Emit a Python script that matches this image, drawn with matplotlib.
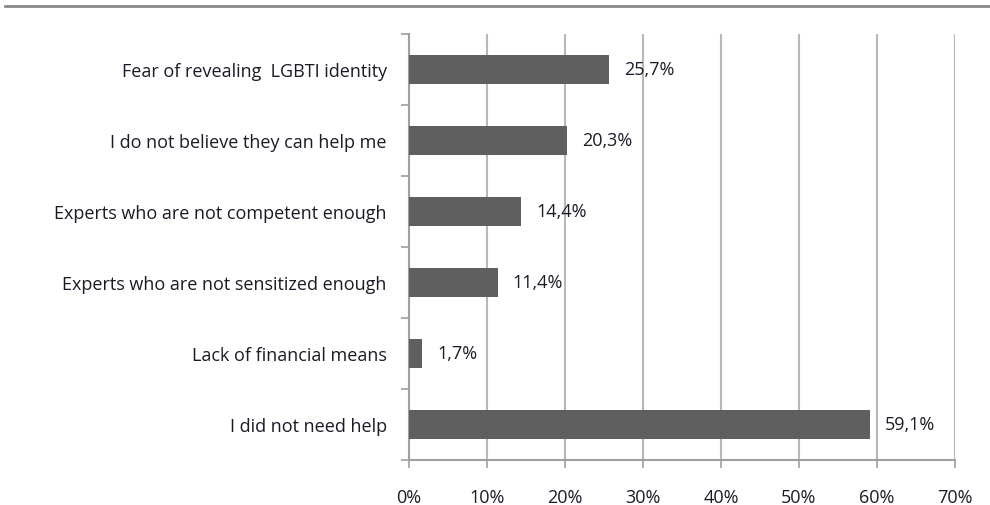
import matplotlib.pyplot as plt
import numpy as np
from matplotlib.ticker import FixedLocator

categories = ["Fear of revealing  LGBTI identity",
              "I do not believe they can help me",
              "Experts who are not competent enough",
              "Experts who are not sensitized enough",
              "Lack of financial means",
              "I did not need help"]
values = [25.7, 20.3, 14.4, 11.4, 1.7, 59.1]
value_labels = ["25,7%", "20,3%", "14,4%", "11,4%", "1,7%", "59,1%"]
xticks = [0, 10, 20, 30, 40, 50, 60, 70]
xtick_labels = ["0%", "10%", "20%", "30%", "40%", "50%", "60%", "70%"]

plt.rcParams['font.family'] = ['Open Sans', 'DejaVu Sans']
fs = 13
txt_color = '#1a1a28'

fig = plt.figure(figsize=(9.9, 5.06), dpi=100)
ax = fig.add_axes([409 / 990, 1 - 461 / 506, 546 / 990, 426 / 506])

y = np.arange(len(categories))[::-1]
ax.barh(y, values, height=0.4, color='#5f5f5f', zorder=3)

for yi, v, lab in zip(y, values, value_labels):
    ax.text(v + 1.9, yi, lab, va='center', ha='left', fontsize=fs, color=txt_color, zorder=4)

ax.set_xlim(0, 70)
ax.set_ylim(-0.5, len(categories) - 0.5)
ax.set_xticks(xticks)
ax.set_xticklabels(xtick_labels, fontsize=fs, color=txt_color)
ax.set_yticks(y)
ax.set_yticklabels(categories, fontsize=fs, color=txt_color)
ax.yaxis.set_minor_locator(FixedLocator(np.arange(-0.5, len(categories), 1.0)))

ax.tick_params(axis='y', which='major', length=0, pad=16)
ax.tick_params(axis='y', which='minor', length=6, width=1.2, color='#a0a0a0', direction='out')
ax.tick_params(axis='x', which='major', length=6, width=1.2, color='#a0a0a0', pad=14)

ax.grid(axis='x', color='#b8b8b8', linewidth=1.5, zorder=0)
for s in ['top', 'right']:
    ax.spines[s].set_visible(False)
for s in ['left', 'bottom']:
    ax.spines[s].set_color('#a0a0a0')
    ax.spines[s].set_linewidth(1.5)

# thin rule across the top of the page
fig.add_artist(plt.Line2D([5 / 990, 1.0], [1 - 7 / 506, 1 - 7 / 506],
                          color='#8a8a8a', linewidth=2))

fig.savefig('out.png', dpi=100)
